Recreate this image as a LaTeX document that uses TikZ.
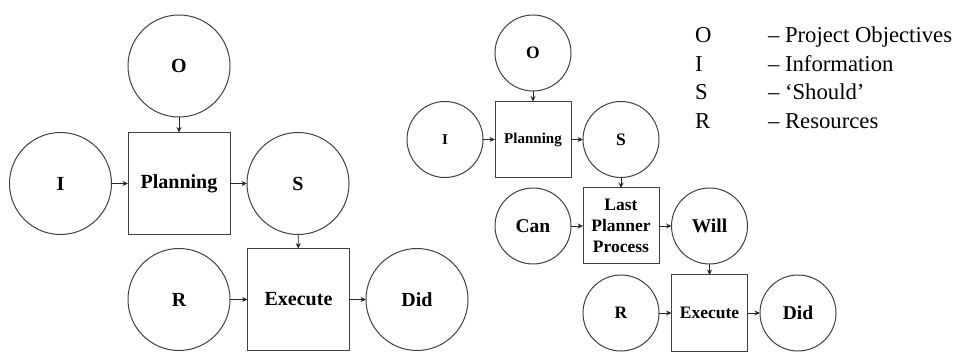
\documentclass[tikz,border=0pt]{standalone}
\usepackage{fontspec}
\setmainfont{Liberation Serif}
\usetikzlibrary{arrows.meta}
\begin{document}
\begin{tikzpicture}[x=1pt,y=-1pt,
  every node/.style={inner sep=0pt, outer sep=0pt, text=black},
  shapeline/.style={draw=black!75, line width=1pt},
  bigcirc/.style={shapeline, circle, minimum size=102pt, font=\fontsize{20}{22}\selectfont\bfseries},
  bigbox/.style={shapeline, rectangle, minimum size=102pt, font=\fontsize{20}{22}\selectfont\bfseries},
  smallcirc/.style={shapeline, circle, minimum size=76pt, font=\fontsize{17.5}{21}\selectfont\bfseries},
  smallbox/.style={shapeline, rectangle, minimum size=76pt, align=center, font=\fontsize{17.5}{21}\selectfont\bfseries},
  tinytext/.style={font=\fontsize{15}{18}\selectfont\bfseries},
  largetext/.style={font=\fontsize{19.5}{22}\selectfont\bfseries},
  legendtext/.style={anchor=base west, font=\fontsize{22.7}{27}\selectfont},
  flow/.style={-{Stealth[length=5.5pt,width=5pt]}, line width=0.9pt, draw=black!85},
]
\useasboundingbox (0,0) rectangle (957,352);

% basic planning model
\node[bigcirc] (o)    at (179,66)     {O};
\node[bigcirc] (i)    at (60.5,183.5) {I};
\node[bigbox]  (plan) at (179,183.5)  {Planning};
\node[bigcirc] (s)    at (298,183.5)  {S};
\node[bigcirc] (r)    at (179,299.5)  {R};
\node[bigbox]  (exe)  at (298.5,299.5){Execute};
\node[bigcirc] (did)  at (417,299.5)  {Did};

\draw[flow] (o) -- (plan);
\draw[flow] (i) -- (plan);
\draw[flow] (plan) -- (s);
\draw[flow] (s) -- (exe);
\draw[flow] (r) -- (exe);
\draw[flow] (exe) -- (did);

% model with the Last Planner process
\node[smallcirc] (o2)    at (533,53)      {O};
\node[smallcirc, tinytext] (i2) at (445,139.5) {I};
\node[smallbox, tinytext] (plan2) at (533,139.5) {Planning};
\node[smallcirc] (s2)    at (621,139.5)   {S};
\node[smallcirc, largetext] (can) at (533,226) {Can};
\node[smallbox]  (lpp)   at (621,226)     {Last\\Planner\\Process};
\node[smallcirc, largetext] (will) at (709.5,226) {Will};
\node[smallcirc] (r2)    at (621,313)     {R};
\node[smallbox]  (exe2)  at (709.5,313)   {Execute};
\node[smallcirc, largetext] (did2) at (798,313) {Did};

\draw[flow] (o2) -- (plan2);
\draw[flow] (i2) -- (plan2);
\draw[flow] (plan2) -- (s2);
\draw[flow] (s2) -- (lpp);
\draw[flow] (can) -- (lpp);
\draw[flow] (lpp) -- (will);
\draw[flow] (will) -- (exe2);
\draw[flow] (r2) -- (exe2);
\draw[flow] (exe2) -- (did2);

% legend
\node[legendtext] (ko) at (695,43)    {O};
\node[legendtext] (ki) at (695,71.5)  {I};
\node[legendtext] (ks) at (695,100)   {S};
\node[legendtext] (kr) at (695,128.5) {R};
\node[legendtext] (vo) at (768,43)    {– Project Objectives};
\node[legendtext] (vi) at (768,71.5)  {– Information};
\node[legendtext] (vs) at (768,100)   {– ‘Should’};
\node[legendtext] (vr) at (768,128.5) {– Resources};
\end{tikzpicture}
\end{document}
